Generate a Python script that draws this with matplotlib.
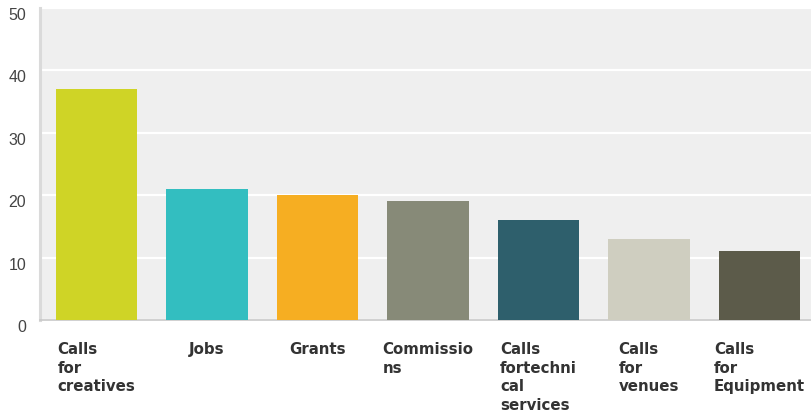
import matplotlib.pyplot as plt
import matplotlib.transforms as mtransforms

# categories and counts
categories = ["Calls\nfor\ncreatives", "Jobs", "Grants", "Commissio\nns",
              "Calls\nfortechni\ncal\nservices", "Calls\nfor\nvenues",
              "Calls\nfor\nEquipment"]
counts = [37, 21, 20, 19, 16, 13, 11]
colors = ["#cfd426", "#33bec0", "#f6ae22", "#878a78",
          "#2e5f6c", "#cfcec0", "#5c5b4a"]
y_ticks = [0, 10, 20, 30, 40, 50]

fig = plt.figure(figsize=(8.11, 4.16), dpi=100)
ax = fig.add_axes([40 / 811, 96 / 416, 771 / 811, 312 / 416])
ax.set_facecolor("#efefef")

x = list(range(len(categories)))
ax.bar(x, counts, width=0.735, color=colors, zorder=3)

ax.set_ylim(0, 50)
ax.set_xlim(-0.511, 6.466)
ax.set_yticks(y_ticks)
ax.yaxis.grid(True, color="white", linewidth=1.6, zorder=0)
ax.set_axisbelow(True)

# spines
for side in ["top", "right"]:
    ax.spines[side].set_visible(False)
ax.spines["left"].set_color("#dadada")
ax.spines["left"].set_linewidth(2.2)
ax.spines["bottom"].set_color("#c8c8c8")
ax.spines["bottom"].set_linewidth(1.2)

ax.tick_params(axis="both", length=0)
ax.tick_params(axis="y", pad=10)
ax.set_yticklabels([str(v) for v in y_ticks], fontsize=11.5,
                   family="Liberation Sans", color="#444444")
# y labels sit a little below their grid line
offset = mtransforms.ScaledTranslation(0, -6 / 100, fig.dpi_scale_trans)
for lab in ax.get_yticklabels():
    lab.set_transform(lab.get_transform() + offset)

ax.set_xticks(x)
ax.set_xticklabels(categories, fontsize=10.8, fontweight="bold",
                   family="DejaVu Sans", color="#333333",
                   linespacing=1.3, multialignment="left")
ax.tick_params(axis="x", pad=16)

fig.savefig("out.png", dpi=100)
